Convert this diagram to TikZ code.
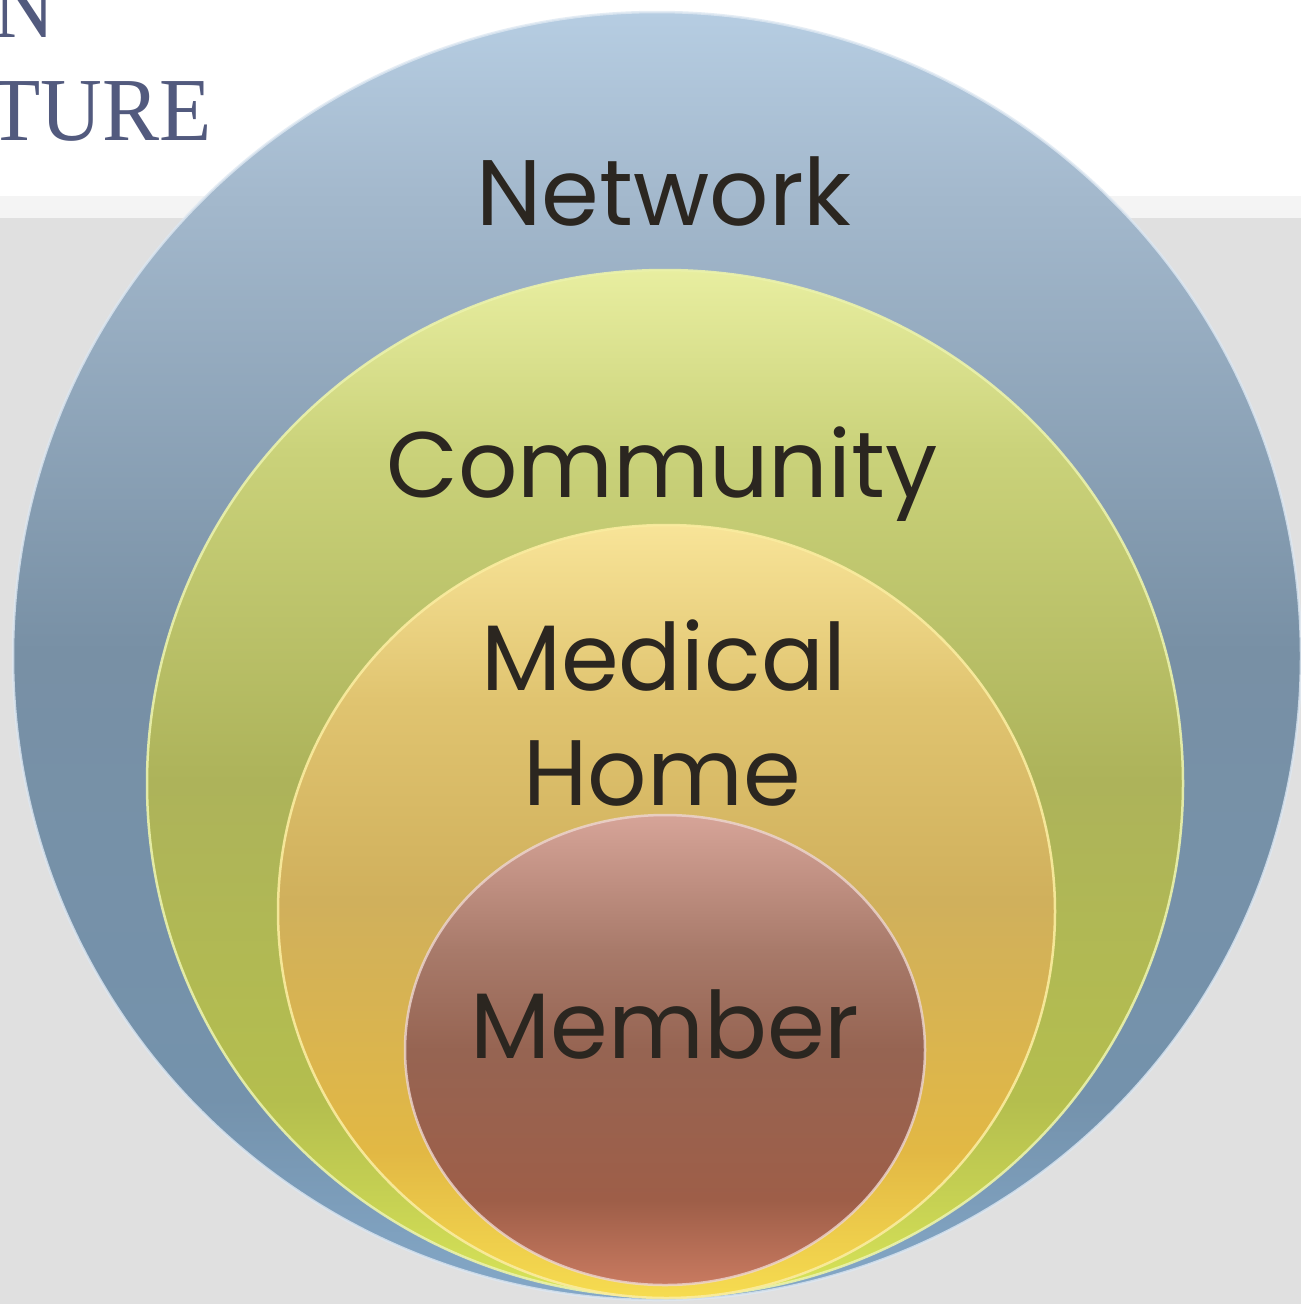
\documentclass[tikz,border=0pt]{standalone}
\usepackage{fontspec}
\setmainfont{Poppins}
\newfontfamily\headfont{Liberation Serif}
\usetikzlibrary{shapes.geometric}
\definecolor{nA}{HTML}{84A8C8}\definecolor{nB}{HTML}{7492AC}\definecolor{nC}{HTML}{7890A5}\definecolor{nD}{HTML}{A3B8CC}\definecolor{nE}{HTML}{B6CDE2}
\definecolor{cA}{HTML}{D8E458}\definecolor{cB}{HTML}{B4BE4E}\definecolor{cC}{HTML}{ADB35A}\definecolor{cD}{HTML}{CAD27A}\definecolor{cE}{HTML}{E8EEA0}
\definecolor{mA}{HTML}{F6DC50}\definecolor{mB}{HTML}{E2B844}\definecolor{mC}{HTML}{D0B05C}\definecolor{mD}{HTML}{E0C470}\definecolor{mE}{HTML}{F8E498}
\definecolor{pA}{HTML}{C87A60}\definecolor{pB}{HTML}{9E5E48}\definecolor{pC}{HTML}{966452}\definecolor{pD}{HTML}{A87A6A}\definecolor{pE}{HTML}{D6A498}
\definecolor{labelink}{HTML}{2B2620}
\definecolor{headink}{HTML}{525A7E}
\definecolor{bggray}{HTML}{E0E0E0}
\definecolor{bgband}{HTML}{F4F4F4}
\pgfdeclareverticalshading{netshade}{100bp}{color(0bp)=(nA); color(25bp)=(nA); color(32.8bp)=(nB); color(50.2bp)=(nC); color(67.7bp)=(nD); color(75bp)=(nE); color(100bp)=(nE)}
\pgfdeclareverticalshading{comshade}{100bp}{color(0bp)=(cA); color(25bp)=(cA); color(34.6bp)=(cB); color(50.1bp)=(cC); color(66.2bp)=(cD); color(75bp)=(cE); color(100bp)=(cE)}
\pgfdeclareverticalshading{medshade}{100bp}{color(0bp)=(mA); color(25bp)=(mA); color(34.5bp)=(mB); color(50.7bp)=(mC); color(63.7bp)=(mD); color(75bp)=(mE); color(100bp)=(mE)}
\pgfdeclareverticalshading{memshade}{100bp}{color(0bp)=(pA); color(25bp)=(pA); color(34bp)=(pB); color(50bp)=(pC); color(60.6bp)=(pD); color(75bp)=(pE); color(100bp)=(pE)}
\tikzset{
  disc/.style={ellipse, inner sep=0pt, line width=2.5pt},
  lbl/.style={text=labelink, inner sep=0pt, font=\fontsize{93}{112}\selectfont, anchor=base},
  head/.style={text=headink, inner sep=0pt, font=\headfont\fontsize{90}{100}\selectfont, anchor=base east, xscale=0.95}
}
\begin{document}
\begin{tikzpicture}[x=1pt,y=-1pt]
\useasboundingbox (0,0) rectangle (1301,1304);
\fill[white] (0,0) rectangle (1301,196);
\fill[bgband] (0,196) rectangle (1301,218);
\fill[bggray] (0,218) rectangle (1301,1304);
\node[head] (h1) at (55,37) {N};
\node[head] (h2) at (212,140) {TURE};
\node[disc, minimum width=1288pt, minimum height=1288pt, shading=netshade, draw=white!55!nE, draw opacity=0.8] (net) at (657,656) {};
\node[disc, minimum width=1036pt, minimum height=1027pt, shading=comshade, draw=white!50!cA, draw opacity=0.9] (com) at (665,783.5) {};
\node[disc, minimum width=777pt, minimum height=773pt, shading=medshade, draw=white!45!mA, draw opacity=0.9] (med) at (666.5,911.5) {};
\node[disc, minimum width=520pt, minimum height=470pt, shading=memshade, draw=white!55!pE, draw opacity=0.8] (mem) at (665,1050) {};
\node[lbl] (lnet) at (664,225) {Network};
\node[lbl] (lcom) at (662,497) {Community};
\node[lbl] (lmed1) at (664,690) {Medical};
\node[lbl] (lmed2) at (662,805) {Home};
\node[lbl] (lmem) at (665,1058) {Member};
\end{tikzpicture}
\end{document}
